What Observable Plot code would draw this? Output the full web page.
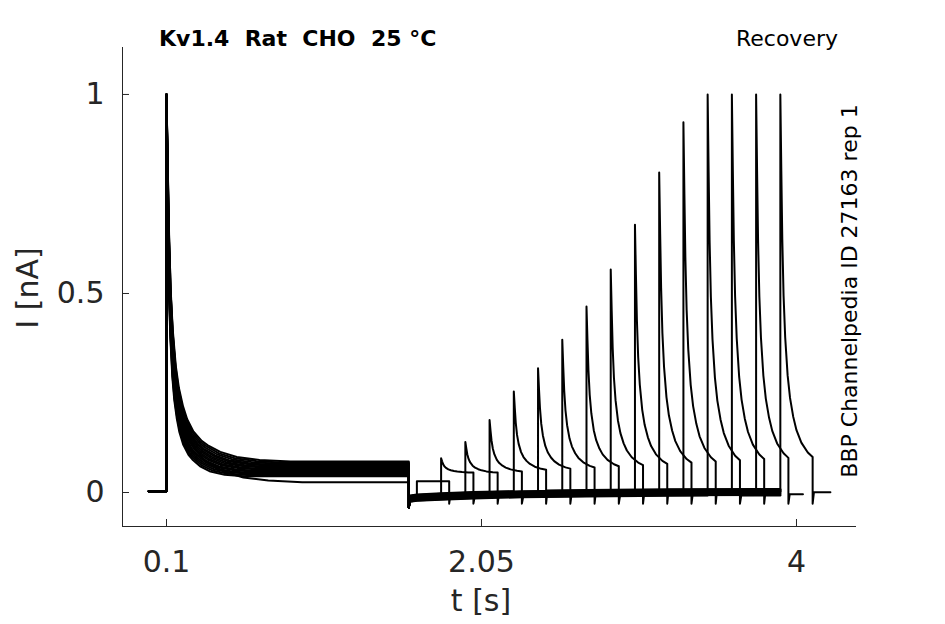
<!DOCTYPE html>
<html>
<head>
<meta charset="utf-8">
<script src="https://cdn.jsdelivr.net/npm/d3@7"></script>
<script src="https://cdn.jsdelivr.net/npm/@observablehq/plot@0.6"></script>
<style>
  html, body { margin: 0; padding: 0; background: #fff; }
  #chart svg { display: block; }
</style>
</head>
<body>
<div id="chart"></div>
<script>
// ---- axes ----
const xDomain = [-0.1724, 4.3715];
const yDomain = [-0.0854, 1.118];
const xTicks = [0.1, 2.05, 4];
const yTicks = [0, 0.5, 1];

// ---- protocol timing (s) ----
const tRecordStart = -0.01;
const tStep1On = 0.1;
const tStep1Off = 1.6;
const pulseStart = [1.65, 1.80, 1.95, 2.10, 2.25, 2.40, 2.55, 2.70, 2.85, 3.00, 3.15, 3.30, 3.45, 3.60, 3.75, 3.90];
const pulseDur = 0.2;
const sweepStop = [3.9, 3.9, 3.9, 3.9, 3.9, 3.9, 3.9, 3.9, 3.9, 3.9, 3.9, 3.9, 3.9, 3.9, 4.04, 4.21];

// ---- current levels (nA) ----
const holdLevel = 0.003;
const firstPeak = 1.0;
const firstSteady = [0.026, 0.041, 0.044, 0.047, 0.049, 0.052, 0.054, 0.057, 0.059, 0.062, 0.064, 0.067, 0.069, 0.072, 0.075, 0.078];
const firstStretch = [1.4, 0.8, 0.83, 0.86, 0.9, 0.93, 0.96, 1.0, 1.03, 1.06, 1.1, 1.13, 1.16, 1.2, 1.24, 1.28];
const pulsePeak = [0.028, 0.086, 0.127, 0.182, 0.254, 0.312, 0.384, 0.467, 0.560, 0.673, 0.804, 0.930, 1.0, 1.0, 1.0, 1.0];
const pulseEndLevel = [0.028, 0.050, 0.050, 0.053, 0.057, 0.060, 0.063, 0.066, 0.069, 0.072, 0.075, 0.078, 0.081, 0.084, 0.087, 0.089];
const stepOffDip = -0.038;
const pulseOffDip = -0.028;
const baseOffset = [0.006, -0.004, 0.002, -0.007, 0.008, -0.001, 0.004, -0.006, 0.001, 0.007, -0.003, 0.005, -0.008, 0.003, -0.005, 0.0];
const driftT = [1.6, 1.65, 1.8, 2.0, 2.3, 2.7, 3.2, 4.3];
const driftV = [-0.016, -0.013, -0.010, -0.007, -0.004, -0.002, 0.0, 0.001];

// ---- inactivation decay shape (fraction of peak above steady level) ----
const decayDt = [0, 0.006, 0.012, 0.02, 0.03, 0.045, 0.06, 0.08, 0.1, 0.13, 0.17, 0.2, 0.26, 0.34, 0.45, 0.6];
const decayG  = [1, 0.80, 0.62, 0.47, 0.36, 0.26, 0.20, 0.15, 0.115, 0.082, 0.056, 0.044, 0.026, 0.012, 0.004, 0];

// ---- texts ----
const titleText = "Kv1.4  Rat  CHO  25 °C";
const protocolText = "Recovery";
const sourceText = "BBP Channelpedia ID 27163 rep 1";
const xLabel = "t [s]";
const yLabel = "I [nA]";

// ---- build the sweeps ----
const drift = d3.scaleLinear().domain(driftT).range(driftV).clamp(true);
const rows = [];
pulseStart.forEach((s, k) => {
  const push = (t, v) => rows.push({sweep: k, t, v});
  const base = t => drift(t) + baseOffset[k];
  // holding, first step
  push(tRecordStart, holdLevel);
  push(tStep1On, holdLevel);
  decayDt.forEach((d, i) => {
    const t = tStep1On + d * firstStretch[k];
    if (t < tStep1Off) push(t, firstSteady[k] + (firstPeak - firstSteady[k]) * decayG[i]);
  });
  push(tStep1Off, firstSteady[k]);
  // back to holding
  push(tStep1Off, stepOffDip);
  push(tStep1Off + 0.008, base(tStep1Off + 0.008));
  driftT.forEach(t => { if (t > tStep1Off + 0.008 && t < s) push(t, base(t)); });
  // recovery test pulse
  push(s, base(s));
  const gEnd = decayG[decayDt.indexOf(pulseDur)];
  decayDt.forEach((d, i) => {
    if (d < pulseDur) push(s + d, pulseEndLevel[k] + (pulsePeak[k] - pulseEndLevel[k]) * (decayG[i] - gEnd) / (1 - gEnd));
  });
  const e = s + pulseDur;
  push(e, pulseEndLevel[k]);
  push(e, pulseOffDip);
  push(e + 0.008, base(e + 0.008));
  driftT.forEach(t => { if (t > e + 0.008 && t < sweepStop[k]) push(t, base(t)); });
  push(sweepStop[k], base(sweepStop[k]));
});

const W = 945, H = 624;
const mL = 122, mR = 89, mT = 47, mB = 98;
const frameW = W - mL - mR, frameH = H - mT - mB;
const axisColor = "#262626";
const font = "DejaVu Sans";

const chart = Plot.plot({
  width: W,
  height: H,
  marginLeft: mL,
  marginRight: mR,
  marginTop: mT,
  marginBottom: mB,
  style: {fontFamily: font, background: "#fff", color: axisColor},
  x: {domain: xDomain},
  y: {domain: yDomain},
  marks: [
    Plot.line(rows, {x: "t", y: "v", z: "sweep", stroke: "#000", strokeWidth: 2, curve: "linear"}),
    Plot.ruleX([xDomain[0]], {stroke: axisColor, strokeWidth: 1}),
    Plot.ruleY([yDomain[0]], {stroke: axisColor, strokeWidth: 1}),
    Plot.tickX(xTicks, {x: d => d, stroke: axisColor, insetTop: frameH - 7}),
    Plot.tickY(yTicks, {y: d => d, stroke: axisColor, insetRight: frameW - 7}),
    Plot.axisX(xTicks, {tickSize: 0, tickPadding: 24, fontSize: 30, tickFormat: d => String(d), label: null, fill: axisColor}),
    Plot.axisY(yTicks, {tickSize: 0, tickPadding: 18, fontSize: 30, tickFormat: d => String(d), label: null, fill: axisColor})
  ]
});

const svg = d3.select(chart);
svg.append("text")
  .attr("x", 159).attr("y", 46).attr("text-anchor", "start")
  .attr("font-family", font).attr("font-size", 22).attr("font-weight", "bold")
  .attr("fill", "#000")
  .text(titleText);
svg.append("text")
  .attr("x", 838).attr("y", 46).attr("text-anchor", "end")
  .attr("font-family", font).attr("font-size", 22)
  .attr("fill", "#000")
  .text(protocolText);
svg.append("text")
  .attr("transform", "translate(857,291) rotate(-90)").attr("text-anchor", "middle")
  .attr("font-family", font).attr("font-size", 22)
  .attr("fill", "#000")
  .text(sourceText);
svg.append("text")
  .attr("x", 481).attr("y", 611).attr("text-anchor", "middle")
  .attr("font-family", font).attr("font-size", 30)
  .attr("fill", axisColor)
  .text(xLabel);
svg.append("text")
  .attr("transform", "translate(38,288) rotate(-90)").attr("text-anchor", "middle")
  .attr("font-family", font).attr("font-size", 30)
  .attr("fill", axisColor)
  .text(yLabel);

document.getElementById("chart").appendChild(chart);
</script>
</body>
</html>
